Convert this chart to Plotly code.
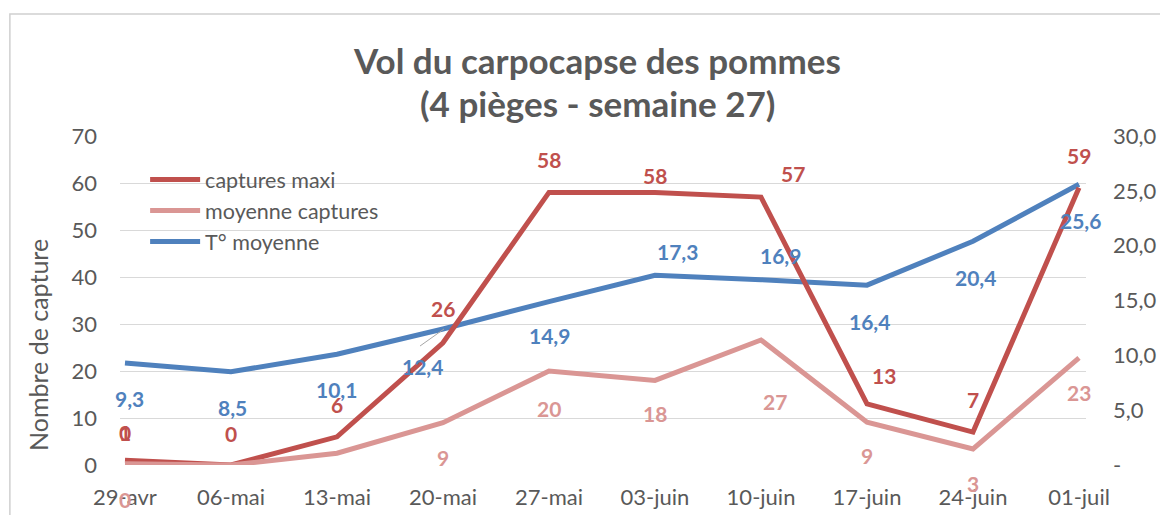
import plotly.graph_objects as go

dates = ["29-avr", "06-mai", "13-mai", "20-mai", "27-mai", "03-juin", "10-juin", "17-juin", "24-juin", "01-juil"]
captures_maxi = [1, 0, 6, 26, 58, 58, 57, 13, 7, 59]
moyenne_captures = [0.25, 0, 2.5, 9, 20, 18, 26.6, 9.1, 3.4, 22.8]
temp_moyenne = [9.3, 8.5, 10.1, 12.4, 14.9, 17.3, 16.9, 16.4, 20.4, 25.6]

maxi_labels = ["1", "0", "6", "26", "58", "58", "57", "13", "7", "59"]
moy_labels = ["0", "", "", "9", "20", "18", "27", "9", "3", "23"]
temp_labels = ["9,3", "8,5", "10,1", "12,4", "14,9", "17,3", "16,9", "16,4", "20,4", "25,6"]

left_ticks = [0, 10, 20, 30, 40, 50, 60, 70]
right_ticks = [0, 5, 10, 15, 20, 25, 30]
right_ticktext = ["-", "5,0", "10,0", "15,0", "20,0", "25,0", "30,0"]

RED = "#C0504D"
PINK = "#DA9694"
BLUE = "#4F81BD"
TXT = "#595959"
FONT = "Lato"

x = list(range(len(dates)))

fig = go.Figure()
fig.add_trace(go.Scatter(x=x, y=temp_moyenne, name="T° moyenne", mode="lines",
                         line=dict(color=BLUE, width=5), yaxis="y"))
fig.add_trace(go.Scatter(x=x, y=captures_maxi, name="captures maxi", mode="lines",
                         line=dict(color=RED, width=5), yaxis="y2"))
fig.add_trace(go.Scatter(x=x, y=moyenne_captures, name="moyenne captures", mode="lines",
                         line=dict(color=PINK, width=5), yaxis="y2"))

ann = []
# pixel offsets of data labels (dx, dy up positive)
maxi_off = [(0, 28), (0, 32), (0, 32), (0, 34), (0, 33), (0, 17), (32, 24), (17, 28), (0, 33), (0, 32)]
moy_off = [(0, -36), (0, 0), (0, 0), (0, -35), (0, -37), (0, -33), (14, -62), (0, -33), (0, -34), (0, -35)]
temp_off = [(5, -35), (2, -36), (0, -35), (-20, -37), (1, -34), (23, 24), (19, 24), (2, -36), (2, -36), (1, -36)]

LBL = 21
for i in range(len(x)):
    if moy_labels[i]:
        ann.append(dict(x=x[i], y=moyenne_captures[i], xref="x", yref="y2", text=moy_labels[i],
                        showarrow=False, xshift=moy_off[i][0], yshift=moy_off[i][1],
                        font=dict(family=FONT, size=LBL, color=PINK, weight="bold")))
for i in range(len(x)):
    ann.append(dict(x=x[i], y=captures_maxi[i], xref="x", yref="y2", text=maxi_labels[i],
                    showarrow=False, xshift=maxi_off[i][0], yshift=maxi_off[i][1],
                    font=dict(family=FONT, size=LBL, color=RED, weight="bold")))
# overlapping second label at the first date
ann.append(dict(x=x[0], y=captures_maxi[0], xref="x", yref="y2", text="0",
                showarrow=False, xshift=0, yshift=28,
                font=dict(family=FONT, size=LBL, color=RED, weight="bold")))
for i in range(len(x)):
    ann.append(dict(x=x[i], y=temp_moyenne[i], xref="x", yref="y", text=temp_labels[i],
                    showarrow=False, xshift=temp_off[i][0], yshift=temp_off[i][1],
                    font=dict(family=FONT, size=LBL, color=BLUE, weight="bold")))

# title
ann.append(dict(x=0.4938, y=1.231, xref="paper", yref="paper", xanchor="center", yanchor="middle",
                text="<b>Vol du carpocapse des pommes</b>",
                showarrow=False, font=dict(family=FONT, size=35, color=TXT)))
ann.append(dict(x=0.4938, y=1.100, xref="paper", yref="paper", xanchor="center", yanchor="middle",
                text="<b>(4 pièges - semaine 27)</b>",
                showarrow=False, font=dict(family=FONT, size=35, color=TXT)))
# y axis title
ann.append(dict(x=-0.0848, y=0.365, xref="paper", yref="paper", xanchor="center", yanchor="middle",
                text="Nombre de capture",
                textangle=-90, showarrow=False, font=dict(family=FONT, size=25, color=TXT)))

fig.update_layout(
    width=1168, height=515,
    margin=dict(l=112, r=90, t=128, b=58),
    paper_bgcolor="white", plot_bgcolor="white",
    showlegend=True,
    legend=dict(x=0.026, y=0.93, xanchor="left", yanchor="top",
                traceorder="normal", bgcolor="rgba(0,0,0,0)", itemwidth=50,
                font=dict(family=FONT, size=21.5, color=TXT)),
    xaxis=dict(tickmode="array", tickvals=x, ticktext=dates, range=[-0.047, 9.066],
               showgrid=False, zeroline=False, showline=False, ticks="", automargin=False,
               tickfont=dict(family=FONT, size=22, color=TXT), ticklabelstandoff=17),
    yaxis=dict(range=[0, 30], side="right", tickmode="array", tickvals=right_ticks,
               ticktext=right_ticktext, showgrid=False, zeroline=False, showline=False,
               automargin=False,
               tickfont=dict(family=FONT, size=22, color=TXT), ticklabelstandoff=26),
    yaxis2=dict(range=[0, 70], side="left", overlaying="y", tickmode="array",
                tickvals=left_ticks, showgrid=True, gridcolor="#D9D9D9", gridwidth=1,
                zeroline=False, showline=False, automargin=False,
                tickfont=dict(family=FONT, size=22, color=TXT), ticklabelstandoff=22),
    annotations=ann,
    shapes=[
        dict(type="rect", xref="paper", yref="paper", x0=-0.114, y0=-0.2, x1=1.1, y1=1.371,
             line=dict(color="#D0D0D0", width=1.5), fillcolor="rgba(0,0,0,0)", layer="below"),
        dict(type="line", xref="paper", yref="paper", x0=0.3106, y0=0.3617, x1=0.3354, y1=0.4134,
             line=dict(color="#A6A6A6", width=1)),
    ],
)

# legend order: captures maxi, moyenne captures, T° moyenne
fig.data[1].legendrank = 1
fig.data[2].legendrank = 2
fig.data[0].legendrank = 3

fig.write_html("out.html")
